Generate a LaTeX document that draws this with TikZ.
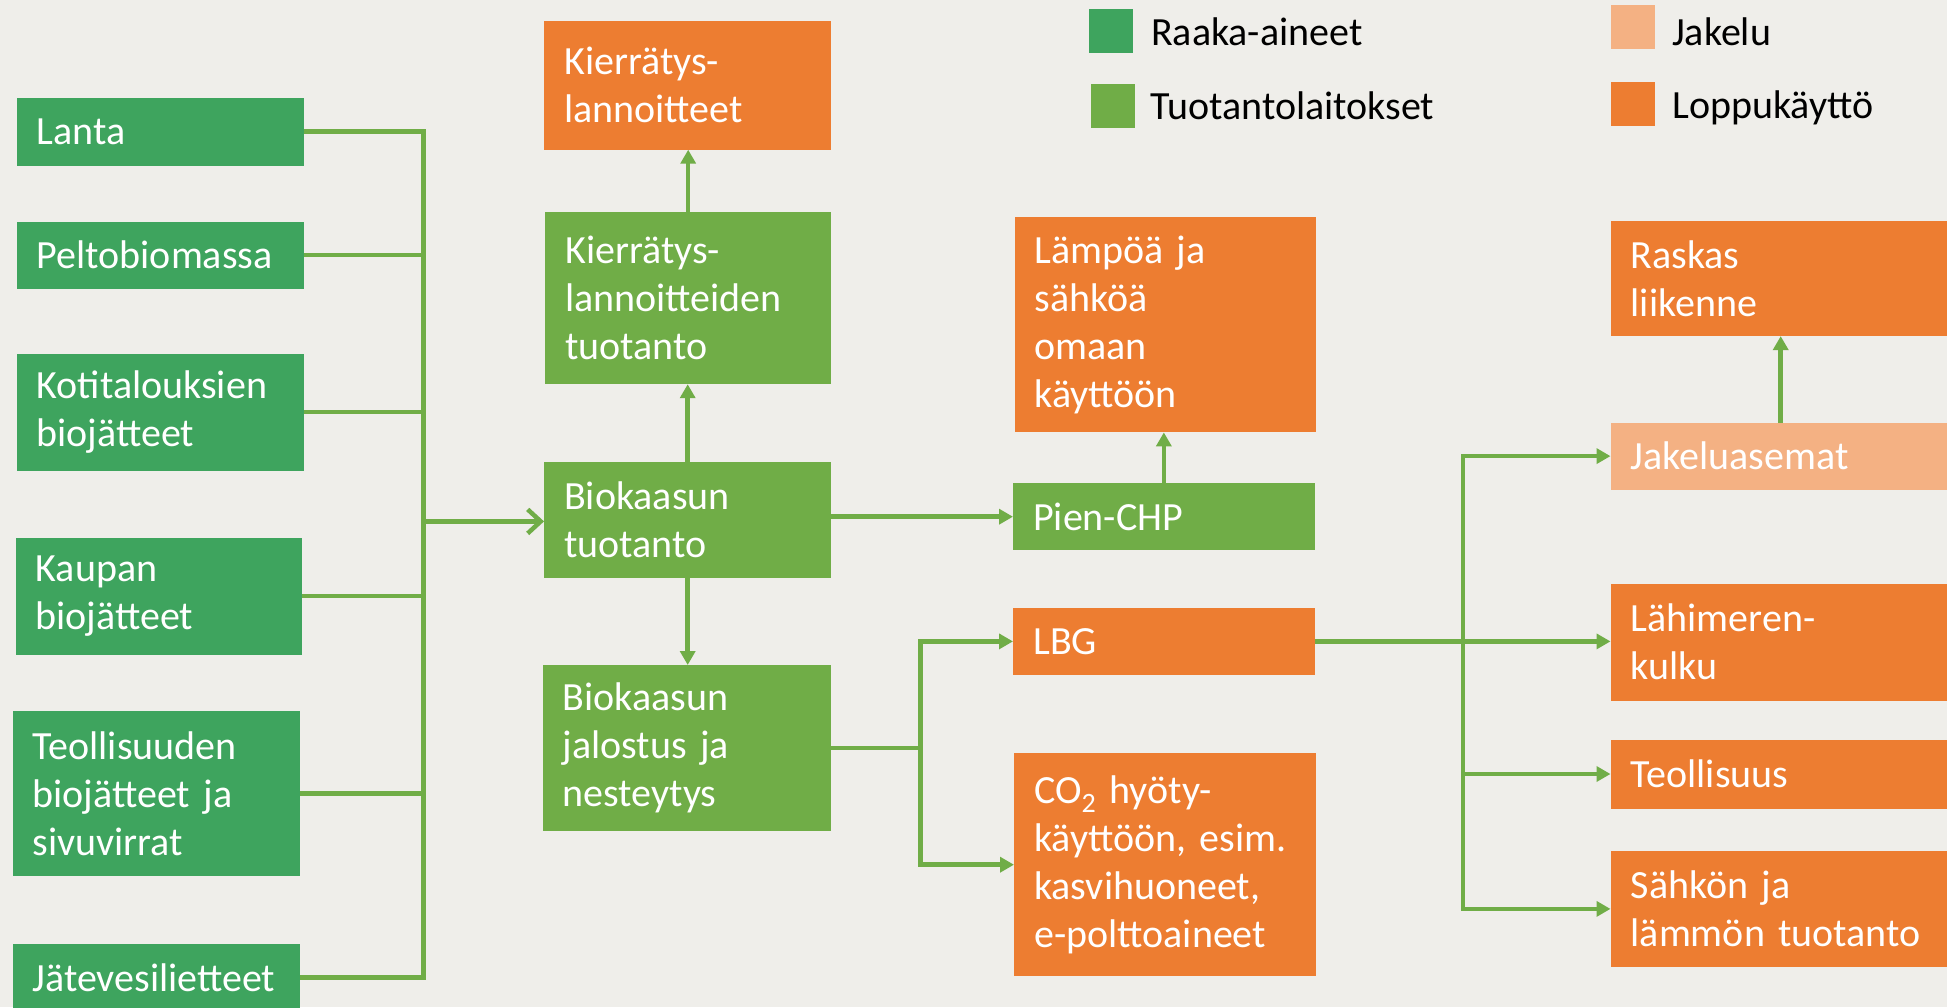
\documentclass[tikz,border=0pt]{standalone}
\usepackage{fontspec}
\setmainfont{Carlito}
\usetikzlibrary{arrows.meta}
\definecolor{bg}{RGB}{239,238,234}
\definecolor{rawc}{RGB}{62,164,94}
\definecolor{plantc}{RGB}{112,173,71}
\definecolor{distc}{RGB}{244,177,131}
\definecolor{endc}{RGB}{237,125,49}
\newcommand\boxfont{\fontsize{40}{48}\selectfont}
\begin{document}
\begin{tikzpicture}[x=1pt,y=-1pt,
  box/.style={rectangle, anchor=north west, inner xsep=20pt, inner ysep=0pt, align=left, text=white, font=\boxfont},
  rawbox/.style={box, fill=rawc},
  plantbox/.style={box, fill=plantc},
  distbox/.style={box, fill=distc},
  endbox/.style={box, fill=endc},
  legsq/.style={rectangle, anchor=north west, inner sep=0pt, minimum width=44pt, minimum height=44pt},
  legtxt/.style={anchor=base west, inner sep=0pt, font=\boxfont, text=black},
  flow/.style={draw=plantc, line width=4.5pt},
  tri/.style={flow, -{Triangle[length=14pt,width=15pt]}},
  chev/.style={flow, -{Straight Barb[length=13pt,width=24pt]}},
]
\path[use as bounding box, fill=bg] (0,0) rectangle (1947,1007);
\clip (0,0) rectangle (1947,1007);

% legend
\node[legsq, fill=rawc] (lg1) at (1088.5,8.7) {};
\node[legtxt] (lt1) at (1151,45) {Raaka-aineet};
\node[legsq, fill=plantc] (lg2) at (1090.5,84) {};
\node[legtxt] (lt2) at (1150,119) {Tuotantolaitokset};
\node[legsq, fill=distc] (lg3) at (1610.5,4.5) {};
\node[legtxt] (lt3) at (1672,45) {Jakelu};
\node[legsq, fill=endc] (lg4) at (1610.5,82) {};
\node[legtxt] (lt4) at (1672,118) {Loppukäyttö};

% raw materials
\node[rawbox, text width=247.5pt, minimum height=68pt] (lanta) at (16.5,97.5) {Lanta};
\node[rawbox, text width=247.5pt, minimum height=67pt] (pelto) at (16.5,221.5) {Peltobiomassa};
\node[rawbox, text width=247.5pt, minimum height=117pt] (koti) at (16.5,353.5) {Kotitalouksien\\biojätteet};
\node[rawbox, text width=246.5pt, minimum height=117pt] (kaupan) at (15.5,537.5) {Kaupan\\biojätteet};
\node[rawbox, text width=247pt, minimum height=165.5pt] (teoll) at (12.5,710.5) {Teollisuuden\\biojätteet ja\\sivuvirrat};
\node[rawbox, text width=247pt, minimum height=68pt] (jate) at (12.5,943.3) {Jätevesilietteet};

% middle column
\node[endbox, text width=247pt, minimum height=128.6pt] (kl) at (544,20.7) {Kierrätys-\\lannoitteet};
\node[plantbox, text width=246pt, minimum height=172pt] (klt) at (545,211.8) {Kierrätys-\\lannoitteiden\\tuotanto};
\node[plantbox, text width=247pt, minimum height=115.5pt] (bt) at (544,461.8) {Biokaasun\\tuotanto};
\node[plantbox, text width=248.5pt, minimum height=166pt] (bj) at (542.5,665) {Biokaasun\\jalostus ja\\nesteytys};

% third column
\node[endbox, text width=261.4pt, minimum height=215pt] (lampo) at (1014.3,217) {Lämpöä ja\\sähköä\\omaan\\käyttöön};
\node[plantbox, text width=261.3pt, minimum height=67pt] (chp) at (1013,483) {Pien-CHP};
\node[endbox, text width=261.3pt, minimum height=67pt] (lbg) at (1013,607.7) {LBG};
\node[endbox, text width=261.7pt, minimum height=223pt] (co2) at (1014,753) {CO\textsubscript{2} hyöty-\\käyttöön, esim.\\kasvihuoneet,\\e-polttoaineet};

% right column
\node[endbox, text width=300pt, minimum height=115.3pt] (raskas) at (1610.5,220.4) {Raskas\\liikenne};
\node[distbox, text width=300pt, minimum height=66.8pt] (jakelu) at (1610.5,422.5) {Jakeluasemat};
\node[endbox, text width=300pt, minimum height=116.6pt] (lahi) at (1610.5,583.7) {Lähimeren-\\kulku};
\node[endbox, text width=300pt, minimum height=69pt] (teol2) at (1610.5,739.3) {Teollisuus};
\node[endbox, text width=300pt, minimum height=116pt] (sahko) at (1610.5,850.7) {Sähkön ja\\lämmön tuotanto};

% bus coordinates
\coordinate (busA) at (423.5,0);
\coordinate (busB) at (920.5,0);
\coordinate (busC) at (1463,0);
\coordinate (btin) at (544,521.4);

% raw materials to biogas production
\draw[flow] (lanta.east) -- (lanta.east -| busA) -- (jate.east -| busA) -- (jate.east);
\draw[flow] (pelto.east) -- (pelto.east -| busA);
\draw[flow] (koti.east) -- (koti.east -| busA);
\draw[flow] (kaupan.east) -- (kaupan.east -| busA);
\draw[flow] (teoll.east) -- (teoll.east -| busA);
\draw[chev] (btin -| busA) -- (btin);

% middle column arrows
\draw[tri] (klt.north) -- (klt.north |- kl.south);
\draw[tri] (bt.north) -- (bt.north |- klt.south);
\draw[tri] (bt.south) -- (bt.south |- bj.north);
\draw[tri] (chp.west -| bt.east) -- (chp.west);
\draw[tri] (chp.north) -- (chp.north |- lampo.south);

% upgrading to LBG and CO2
\draw[flow] (bj.east) -- (bj.east -| busB);
\draw[tri] (co2.west -| busB) -- (lbg.west -| busB) -- (lbg.west);
\draw[tri] (lbg.west -| busB) -- (co2.west -| busB) -- (co2.west);

% LBG to end uses
\draw[tri] (lbg.east) -- (lbg.east -| lahi.west);
\draw[tri] (sahko.west -| busC) -- (jakelu.west -| busC) -- (jakelu.west);
\draw[tri] (teol2.west -| busC) -- (teol2.west);
\draw[tri] (jakelu.west -| busC) -- (sahko.west -| busC) -- (sahko.west);
\draw[tri] (jakelu.north) -- (jakelu.north |- raskas.south);
\end{tikzpicture}
\end{document}
